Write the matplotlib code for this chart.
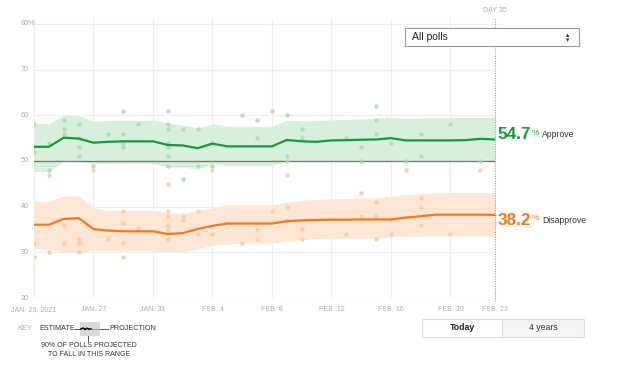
import matplotlib

matplotlib.use("Agg")
import matplotlib.pyplot as plt
from matplotlib.lines import Line2D
from matplotlib.patches import Rectangle
from matplotlib.transforms import blended_transform_factory

W, H = 620, 373

# days counted from Jan. 23, 2021
DAYS = list(range(32))
TICK_DAYS = [0, 4, 8, 12, 16, 20, 24, 28, 31]
TICK_LABELS = ["JAN. 23, 2021", "JAN. 27", "JAN. 31", "FEB. 4", "FEB. 8",
               "FEB. 12", "FEB. 16", "FEB. 20", "FEB. 23"]
Y_TICKS = [20, 30, 40, 50, 60, 70, 80]

APPROVE = [53.1, 53.1, 55.1, 54.9, 54.0, 54.2, 54.3, 54.3, 54.3,
           53.5, 53.4, 52.8, 53.8, 53.2, 53.2, 53.2, 53.2,
           54.6, 54.3, 54.2, 54.5, 54.55, 54.65, 54.7, 55.0, 54.5, 54.5,
           54.5, 54.5, 54.55, 54.85, 54.7]
APPROVE_HI = [58.2, 58.2, 60.0, 59.9, 58.7, 58.9, 58.9, 58.9, 58.9,
              58.3, 57.9, 57.2, 58.1, 57.6, 57.6, 57.6, 57.6,
              58.9, 58.8, 58.8, 59.0, 59.1, 59.2, 59.3, 59.55, 59.3, 59.4,
              59.45, 59.5, 59.5, 59.5, 59.5]
APPROVE_LO = [47.7, 47.7, 50.0, 50.0, 49.4, 49.5, 49.5, 49.5, 49.5,
              48.6, 48.6, 48.3, 49.4, 49.0, 49.0, 49.0, 49.0,
              49.9, 49.9, 49.9, 49.9, 49.9, 49.9, 49.9, 50.0, 49.9, 49.9,
              49.9, 49.9, 49.9, 49.9, 49.9]

DISAPPROVE = [36.05, 36.05, 37.3, 37.5, 35.1, 34.75, 34.6, 34.6, 34.6,
              34.0, 34.2, 35.1, 35.8, 36.3, 36.3, 36.3, 36.3,
              36.8, 37.0, 37.1, 37.15, 37.15, 37.2, 37.2, 37.2, 37.6, 37.9,
              38.25, 38.25, 38.25, 38.25, 38.2]
DISAPPROVE_HI = [41.2, 41.2, 42.3, 42.4, 39.7, 39.2, 39.2, 39.2, 39.2,
                 38.6, 38.5, 39.2, 39.7, 40.4, 40.4, 40.4, 40.4,
                 41.0, 41.4, 41.6, 41.7, 41.8, 41.85, 41.9, 42.25, 42.6, 42.85,
                 43.0, 43.1, 43.1, 43.1, 43.1]
DISAPPROVE_LO = [30.8, 30.8, 30.0, 30.0, 30.4, 30.3, 30.3, 30.3, 30.3,
                 30.0, 30.1, 30.8, 31.5, 31.8, 32.0, 32.0, 32.0,
                 32.5, 32.8, 33.0, 33.1, 33.1, 33.1, 33.1, 33.4, 33.5, 33.6,
                 33.6, 33.6, 33.6, 33.6, 33.6]

APPROVE_POLL_DAYS = [0, 0, 1, 1, 2, 2, 2, 3, 3, 3, 3, 4, 5, 6, 6, 6, 6, 7,
                     9, 9, 9, 9, 9, 9, 9, 10, 10, 11, 11, 12, 12, 14, 15, 15,
                     16, 17, 17, 17, 18, 18, 21, 22, 22, 23, 23, 23, 24, 25,
                     26, 26, 28, 30]
APPROVE_POLLS = [58, 52, 54, 48, 59, 57, 56, 58, 55, 53, 51, 49, 56, 61, 56,
                 54, 53, 58, 61, 58, 57, 54, 53, 51, 49, 57, 46, 57, 49, 54,
                 49, 60, 59, 55, 61, 60, 51, 50, 57, 55, 55, 53, 50, 62, 59,
                 56, 54, 50, 56, 51, 58, 50]

DISAPPROVE_POLL_DAYS = [0, 0, 1, 1, 2, 2, 3, 3, 3, 4, 5, 6, 6, 6, 6, 7,
                        9, 9, 9, 9, 9, 9, 10, 10, 11, 11, 12, 12, 14, 15, 15,
                        16, 17, 17, 17, 18, 18, 21, 22, 22, 23, 23, 23, 24, 24,
                        25, 26, 26, 26, 28, 30]
DISAPPROVE_POLLS = [32, 29, 30, 47, 36, 32, 33, 32, 30, 48, 33, 39, 36.5, 32,
                    29, 35, 45, 39, 38, 36, 35, 33, 38, 37, 39, 34, 34, 48, 32,
                    35, 33, 39, 40, 37, 47, 35, 33, 34, 43, 38, 41, 38, 33, 37,
                    34, 48, 42, 40, 36, 34, 48]

GREEN = "#0f9d37"
GREEN_BAND = "#d8efdb"
GREEN_DOT = "#a6dcb0"
ORANGE = "#fd7616"
ORANGE_BAND = "#fde6d5"
ORANGE_DOT = "#fcc8a0"
GRID = "#eeeeee"
TICK_GRAY = "#aaaaaa"

plt.rcParams["font.family"] = ["Liberation Sans", "DejaVu Sans"]


def fx(x):
    return x / W


def fy(y):
    return 1 - y / H


fig = plt.figure(figsize=(W / 100, H / 100), dpi=100)
ax = fig.add_axes([fx(34), fy(298), fx(495) - fx(34), fy(18) - fy(298)])
ax.set_xlim(0, 31)
ax.set_ylim(20, 81.3)
for s in ax.spines.values():
    s.set_visible(False)
ax.set_yticks([])
ax.set_xticks(TICK_DAYS)
ax.set_xticklabels(TICK_LABELS, fontsize=5, color=TICK_GRAY)
ax.tick_params(axis="x", length=0, pad=5.5)

for v in Y_TICKS:
    ax.axhline(v, color=GRID, lw=0.8, zorder=0)
for d in TICK_DAYS[:-1]:
    ax.axvline(d, ymax=1, color=GRID, lw=0.8, zorder=0)

ytrans = blended_transform_factory(fig.transFigure, ax.transData)
for v in Y_TICKS:
    lab = f"{v}%" if v == Y_TICKS[-1] else str(v)
    ax.text(fx(21), v, lab, transform=ytrans, ha="left", va="center",
            fontsize=5.2, color=TICK_GRAY)

# bands, polls, estimates
ax.fill_between(DAYS, APPROVE_LO, APPROVE_HI, color=GREEN_BAND, lw=0, zorder=1)
ax.fill_between(DAYS, DISAPPROVE_LO, DISAPPROVE_HI, color=ORANGE_BAND, lw=0, zorder=1)
ax.axhline(50, color="#7a7a7a", lw=1, zorder=2)
ax.scatter(APPROVE_POLL_DAYS, APPROVE_POLLS, s=10, color=GREEN_DOT, lw=0, alpha=0.85, zorder=3)
ax.scatter(DISAPPROVE_POLL_DAYS, DISAPPROVE_POLLS, s=10, color=ORANGE_DOT, lw=0, alpha=0.85, zorder=3)
ax.plot(DAYS, APPROVE, color=GREEN, lw=1.6, zorder=4)
ax.plot(DAYS, DISAPPROVE, color=ORANGE, lw=1.6, zorder=4)

# today marker
ax.plot([DAYS[-1], DAYS[-1]], [19.3, 81.4], color="#999999", lw=0.8,
        ls=(0, (1, 1.2)), clip_on=False, zorder=5)
ax.text(DAYS[-1], 82.9, "DAY 35", ha="center", va="center", fontsize=5,
        color=TICK_GRAY)

# end labels
for series, name, color, dy in [(APPROVE, "Approve", GREEN, 3.4),
                                 (DISAPPROVE, "Disapprove", ORANGE, -3.8)]:
    num = ax.annotate(f"{series[-1]:.1f}", xy=(DAYS[-1], series[-1]), xytext=(2, dy),
                      textcoords="offset points", ha="left", va="center",
                      fontsize=12.3, fontweight="bold", color=color,
                      annotation_clip=False)
    ax.annotate("%", xy=(1, 1), xycoords=num, xytext=(0.6, -2),
                textcoords="offset points", ha="left", va="top",
                fontsize=6, color=color)
    ax.annotate(name, xy=(1, 1), xycoords=num, xytext=(8, -2.2),
                textcoords="offset points", ha="left", va="top",
                fontsize=6.2, color="#333333")

# dropdown
fig.add_artist(Rectangle((fx(405), fy(46)), fx(579.3) - fx(405), fy(28.3) - fy(46),
                         transform=fig.transFigure, facecolor="white",
                         edgecolor="#999999", lw=0.8, zorder=10))
fig.text(fx(412), fy(37.5), "All polls", ha="left", va="center", fontsize=7.5,
         color="#222222", zorder=11)
fig.text(fx(568), fy(37.3), "\u25b4\n\u25be", ha="center", va="center", fontsize=4.8,
         linespacing=0.75, color="#333333", family="DejaVu Sans", zorder=11)

# Today / 4 years toggle
fig.add_artist(Rectangle((fx(422.3), fy(336.7)), fx(502.3) - fx(422.3), fy(319) - fy(336.7),
                         transform=fig.transFigure, facecolor="white",
                         edgecolor="#dddddd", lw=0.8, zorder=10))
fig.add_artist(Rectangle((fx(502.3), fy(336.7)), fx(584.3) - fx(502.3), fy(319) - fy(336.7),
                         transform=fig.transFigure, facecolor="#f5f5f5",
                         edgecolor="#dddddd", lw=0.8, zorder=10))
fig.text(fx(462), fy(328), "Today", ha="center", va="center", fontsize=6.3,
         fontweight="bold", color="#222222", zorder=11)
fig.text(fx(543), fy(328), "4 years", ha="center", va="center", fontsize=6.3,
         color="#333333", zorder=11)

# key
fig.text(fx(17), fy(329), "KEY", ha="left", va="center", fontsize=5.3,
         color=TICK_GRAY)
fig.text(fx(39), fy(329), "ESTIMATE", ha="left", va="center", fontsize=5.2,
         color="#333333")
fig.text(fx(109), fy(329), "PROJECTION", ha="left", va="center", fontsize=5.2,
         color="#333333")
fig.add_artist(Rectangle((fx(80), fy(336)), fx(100) - fx(80), fy(322) - fy(336),
                         transform=fig.transFigure, facecolor="#d9d9d9",
                         edgecolor="none", zorder=10))
fig.add_artist(Line2D([fx(75), fx(80)], [fy(329), fy(329)], transform=fig.transFigure,
                      color="#555555", lw=0.7, zorder=11))
fig.add_artist(Line2D([fx(100), fx(108)], [fy(329), fy(329)], transform=fig.transFigure,
                      color="#555555", lw=0.7, zorder=11))
fig.add_artist(Line2D([fx(81), fx(83), fx(85), fx(87), fx(89), fx(91)],
                      [fy(329), fy(328), fy(329.5), fy(328.2), fy(329.3), fy(328.8)],
                      transform=fig.transFigure, color="black", lw=1.1, zorder=11))
fig.add_artist(Line2D([fx(91), fx(100)], [fy(328.8), fy(328.8)], transform=fig.transFigure,
                      color="#555555", lw=0.7, ls=(0, (1, 1)), zorder=11))
fig.add_artist(Line2D([fx(87.5), fx(87.5)], [fy(336), fy(341)], transform=fig.transFigure,
                      color="#555555", lw=0.7, zorder=11))
fig.text(fx(89), fy(345.5), "90% OF POLLS PROJECTED", ha="center", va="center",
         fontsize=5, color="#333333")
fig.text(fx(89), fy(354), "TO FALL IN THIS RANGE", ha="center", va="center",
         fontsize=5, color="#333333")

fig.savefig("out.png", dpi=100, facecolor="white")
